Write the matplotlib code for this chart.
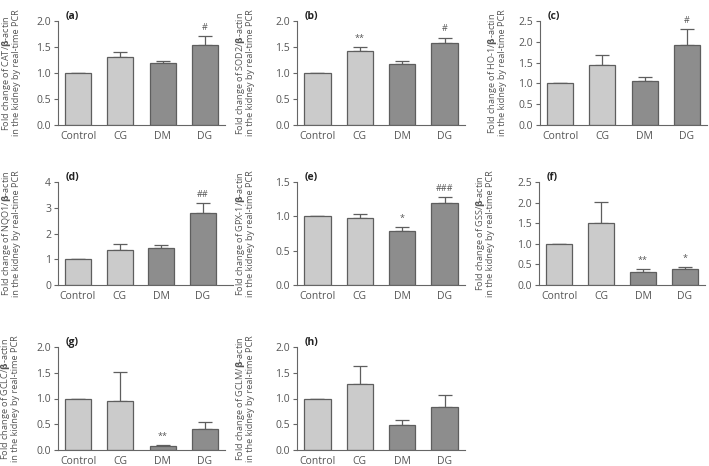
import matplotlib
matplotlib.use('Agg')
import matplotlib.pyplot as plt
import numpy as np

plt.rcParams['font.family'] = ['Open Sans', 'DejaVu Sans']
plt.rcParams['mathtext.fontset'] = 'custom'
plt.rcParams['mathtext.rm'] = 'Open Sans'
plt.rcParams['mathtext.bf'] = 'DejaVu Sans:bold'

groups = ['Control', 'CG', 'DM', 'DG']
genes = ['CAT', 'SOD2', 'HO-1', 'NQO1', 'GPX-1', 'GSS', 'GCLC', 'GCLM']
letters = ['a', 'b', 'c', 'd', 'e', 'f', 'g', 'h']

# mean values, upper error, significance marks
cat_mean = [1.0, 1.30, 1.20, 1.54]
cat_err = [0.0, 0.10, 0.04, 0.17]
cat_sig = ['', '', '', '#']

sod2_mean = [1.0, 1.43, 1.17, 1.57]
sod2_err = [0.0, 0.07, 0.06, 0.11]
sod2_sig = ['', '**', '', '#']

ho1_mean = [1.0, 1.44, 1.05, 1.92]
ho1_err = [0.0, 0.24, 0.11, 0.39]
ho1_sig = ['', '', '', '#']

nqo1_mean = [1.0, 1.36, 1.42, 2.81]
nqo1_err = [0.0, 0.23, 0.12, 0.36]
nqo1_sig = ['', '', '', '##']

gpx1_mean = [1.0, 0.98, 0.79, 1.19]
gpx1_err = [0.0, 0.05, 0.05, 0.09]
gpx1_sig = ['', '', '*', '###']

gss_mean = [1.0, 1.50, 0.32, 0.40]
gss_err = [0.0, 0.51, 0.06, 0.04]
gss_sig = ['', '', '**', '*']

gclc_mean = [1.0, 0.95, 0.08, 0.41]
gclc_err = [0.0, 0.57, 0.02, 0.13]
gclc_sig = ['', '', '**', '']

gclm_mean = [1.0, 1.29, 0.49, 0.84]
gclm_err = [0.0, 0.35, 0.10, 0.22]
gclm_sig = ['', '', '', '']

means = [cat_mean, sod2_mean, ho1_mean, nqo1_mean, gpx1_mean, gss_mean, gclc_mean, gclm_mean]
errs = [cat_err, sod2_err, ho1_err, nqo1_err, gpx1_err, gss_err, gclc_err, gclm_err]
sigs = [cat_sig, sod2_sig, ho1_sig, nqo1_sig, gpx1_sig, gss_sig, gclc_sig, gclm_sig]
ymax = [2.0, 2.0, 2.5, 4, 1.5, 2.5, 2.0, 2.0]
ystep = [0.5, 0.5, 0.5, 1, 0.5, 0.5, 0.5, 0.5]

# axes boxes in pixels: left, top, right, bottom ; ylabel right edge x
W, H = 709, 466
boxes = [(58, 21, 225, 125), (297, 21, 465, 125), (540, 21, 707, 125),
         (58, 182, 233, 285), (297, 182, 465, 285), (539, 182, 705, 285),
         (58, 347, 225, 450), (297, 347, 465, 450)]
label_x = [21, 255, 507, 21, 255, 495, 20, 255]

light = '#cbcbcb'
dark = '#8d8d8d'
edge = '#5e5e5e'
txt = '#555555'

fig = plt.figure(figsize=(7.09, 4.66), dpi=100)
x = np.arange(len(groups))
for i in range(8):
    l, t, r, b = boxes[i]
    ax = fig.add_axes([l / W, 1 - b / H, (r - l) / W, (b - t) / H])
    cols = [light, light, dark, dark]
    ax.bar(x, means[i], width=0.62, color=cols, edgecolor=edge, linewidth=0.9, zorder=2)
    ax.errorbar(x, means[i], yerr=[np.zeros(4), errs[i]], fmt='none', ecolor=edge,
                elinewidth=0.9, capsize=5.2, capthick=0.9, zorder=1)
    for j in range(4):
        if sigs[i][j]:
            ax.annotate(sigs[i][j], (x[j], means[i][j] + errs[i][j]), xytext=(0, 3),
                        textcoords='offset points', ha='center', va='bottom',
                        fontsize=6.5, color=txt)
    ax.set_ylim(0, ymax[i])
    ax.set_yticks(np.arange(0, ymax[i] + 0.001, ystep[i]))
    if ystep[i] < 1:
        ax.set_yticklabels(['%.1f' % v for v in np.arange(0, ymax[i] + 0.001, ystep[i])])
    right = 3.72 if i == 3 else 3.48
    ax.set_xlim(-0.48, right)
    ax.set_xticks(x)
    ax.set_xticklabels(groups)
    ax.tick_params(axis='x', length=0, pad=4, labelsize=7.5, colors=txt)
    ax.tick_params(axis='y', length=3, width=0.8, pad=2, labelsize=7.5, colors=txt, color='#666666')
    for s in ['top', 'right']:
        ax.spines[s].set_visible(False)
    for s in ['left', 'bottom']:
        ax.spines[s].set_color('#666666')
        ax.spines[s].set_linewidth(0.8)
    ax.set_ylabel('Fold change of ' + genes[i] + r'/$\mathbf{\beta}$-actin' + '\nin the kidney by real-time PCR',
                  fontsize=6.6, color=txt, linespacing=0.9)
    ax.yaxis.set_label_coords((label_x[i] - l) / (r - l), 0.5)
    ax.text(0.045, 1.04, '(' + letters[i] + ')', transform=ax.transAxes, fontsize=7.5,
            fontweight='bold', color='#222222', ha='left', va='center')

fig.savefig('out.png', dpi=100)
